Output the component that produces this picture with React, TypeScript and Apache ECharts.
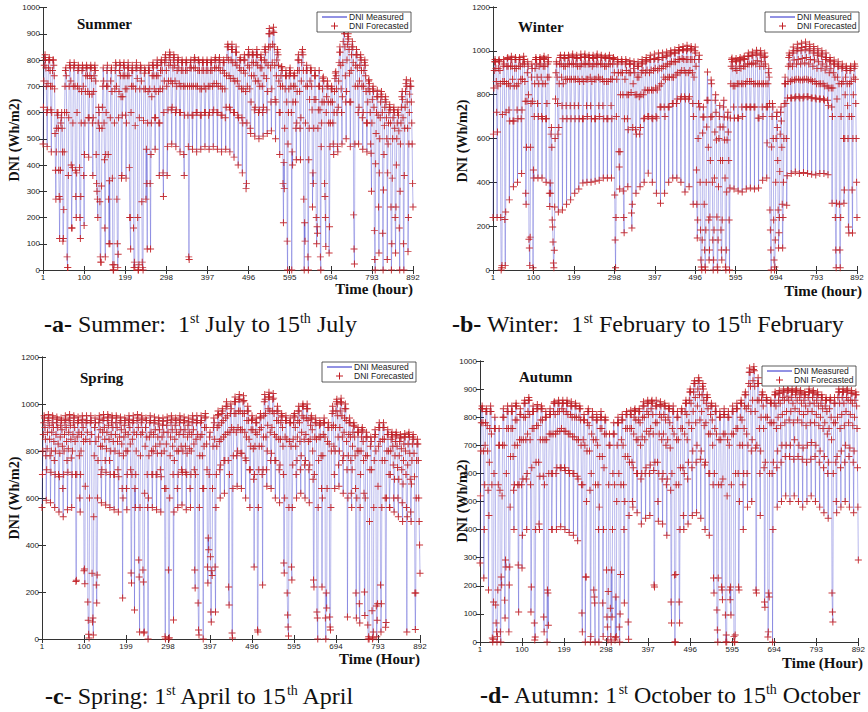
import React, { useEffect, useRef } from "react";
import * as echarts from "echarts";

// Tick labels on every time axis (hour index)
const xTickLabels = [1, 100, 199, 298, 397, 496, 595, 694, 793, 892];

// Each string = one day of hourly DNI values (Wh/m2)
const summerDays = [
  "480 620 720 780 810 820 800 770 700 600", "470 610 710 770 800 810 800 760 700 610",
  "450 600 700 760 800 800 780 740 690 520", "380 270 450 540 600 590 600 540 380 280",
  "120 270 380 560 580 600 540 450 110 120", "230 450 600 700 760 770 740 600 50 10",
  "10 360 580 700 780 790 770 720 400 160", "160 390 560 700 770 790 780 700 380 280",
  "200 370 600 700 760 780 770 690 390 200", "120 280 560 680 760 780 770 700 360 170",
  "440 560 680 740 770 780 770 740 680 580", "430 580 670 740 770 780 770 730 670 560",
  "360 580 680 740 770 780 760 720 440 330", "300 270 200 560 620 600 540 260 50 30",
  "30 320 540 620 700 770 720 560 420 160", "50 440 600 700 760 780 700 440 270 100",
  "340 100 580 720 760 770 680 350 20 0", "0 20 560 690 760 790 780 700 270 100",
  "10 60 580 680 760 790 780 740 660 350", "360 590 660 740 780 790 770 740 690 590",
  "350 560 690 740 770 790 770 740 390 200", "200 80 600 700 760 780 760 700 160 10",
  "30 10 550 690 770 790 770 730 200 0", "0 20 580 690 760 780 770 720 260 30",
  "10 0 570 690 750 770 760 690 270 460", "330 80 560 680 760 780 760 690 330 80",
  "440 560 660 740 780 790 770 740 690 580", "460 580 680 740 780 800 780 740 680 560",
  "360 560 690 760 790 800 790 760 690 370", "280 600 720 790 810 820 800 760 700 360",
  "470 610 720 780 810 830 820 790 720 610", "480 620 710 770 800 820 810 780 720 600",
  "470 610 700 760 790 810 800 770 710 600", "450 600 700 760 790 800 790 760 700 440",
  "360 590 700 760 790 800 790 760 700 590", "470 50 40 700 770 790 800 770 700 590",
  "460 590 700 770 800 810 800 770 700 600", "450 600 700 760 800 800 790 760 690 590",
  "460 590 690 760 790 800 790 760 700 600", "470 600 690 760 790 800 790 760 700 590",
  "460 600 700 760 790 800 790 760 700 600", "470 610 710 770 800 810 800 770 710 600",
  "460 600 700 770 800 810 790 760 700 590", "450 590 690 760 790 800 790 750 690 580",
  "460 620 740 810 850 860 850 800 740 620", "450 610 730 800 840 860 840 790 730 600",
  "430 600 720 790 830 850 830 780 720 590", "400 580 700 770 800 810 800 760 690 580",
  "370 560 690 760 800 820 800 750 680 310", "330 560 700 780 820 840 820 770 690 540",
  "520 640 740 790 820 830 820 790 740 610", "510 620 720 790 820 840 820 780 720 600",
  "500 610 700 770 810 820 800 770 700 600", "510 620 740 800 840 850 830 790 730 610",
  "520 680 780 850 900 920 900 850 770 640", "530 690 790 860 910 925 905 850 780 650",
  "500 640 740 800 830 840 820 780 720 600", "440 600 700 740 770 775 760 700 330 180",
  "410 310 540 690 740 760 740 640 110 0", "480 600 690 740 760 770 750 700 600 0",
  "450 400 640 700 740 750 740 700 640 540", "420 560 680 760 800 820 800 760 680 540",
  "420 580 720 790 830 840 820 760 270 0", "180 110 560 700 760 780 760 700 50 0",
  "420 540 650 720 760 770 760 700 610 240", "370 330 540 650 740 760 740 650 200 100",
  "165 140 540 610 700 760 700 610 50 0", "470 560 640 690 730 735 720 640 330 280",
  "200 90 600 660 700 720 700 640 560 65", "165 470 560 640 690 700 690 640 560 480",
  "440 600 680 730 750 755 740 690 600 470", "450 620 720 790 830 850 830 780 690 600",
  "480 660 790 870 910 920 900 850 740 640", "500 680 800 860 890 900 880 840 750 640",
  "470 640 760 820 850 870 850 790 210 80", "23 480 700 780 820 840 820 770 700 600",
  "480 620 720 780 810 820 800 760 700 580", "460 600 700 760 790 800 780 740 680 560",
  "450 560 640 690 720 725 710 680 600 480", "445 300 560 650 690 700 680 620 150 40",
  "0 405 520 600 660 685 660 590 240 65", "370 500 580 640 670 680 660 600 140 0",
  "305 440 550 620 650 660 640 580 500 40", "370 480 560 600 620 630 610 560 240 0",
  "100 350 500 580 610 620 600 540 200 65", "240 400 500 560 600 610 590 530 160 0",
  "300 480 560 620 660 680 650 580 100 0", "360 540 620 680 710 725 700 640 540 70",
  "200 480 600 670 700 720 700 640 560 480 330 240",
];

const winterDays = [
  "240 620 830 910 950 960 950 920 860 720", "240 630 840 920 955 960 950 910 850 240",
  "0 10 20 710 860 930 960 940 860 230", "20 265 720 850 930 965 970 930 850 730",
  "320 680 840 930 960 975 960 930 870 680", "380 680 840 920 960 970 960 920 840 730",
  "400 690 850 930 960 970 960 930 870 690", "440 730 870 940 960 975 960 940 860 770",
  "350 300 560 770 900 950 930 800 140 100", "20 150 560 760 880 940 920 770 10 456",
  "420 700 850 920 960 970 960 940 880 760", "420 700 850 930 960 970 960 940 880 700",
  "420 690 850 930 965 975 960 930 850 690", "400 690 760 880 940 970 950 880 350 290",
  "397 350 620 650 560 228 196 128 32 10", "90 287 600 780 900 950 940 880 760 620",
  "265 650 850 940 970 980 970 940 880 750", "274 690 850 930 970 980 965 930 870 750",
  "300 690 870 940 970 980 970 940 870 750", "320 690 870 940 975 985 970 940 870 750",
  "350 690 870 940 970 980 965 930 870 750", "370 690 860 930 970 985 970 940 870 690",
  "397 690 860 940 975 985 970 940 870 750", "400 700 870 940 970 980 970 940 880 750",
  "400 690 860 930 970 980 965 940 870 690", "405 690 870 940 975 985 970 940 880 750",
  "410 700 870 940 970 980 970 940 870 750", "420 690 860 930 970 975 965 930 860 690",
  "420 690 860 940 970 980 965 940 870 750", "420 690 870 940 965 970 960 900 342 137",
  "10 240 700 870 940 960 950 900 540 470", "370 540 800 900 950 960 950 900 800 360",
  "240 170 690 870 940 960 950 910 800 690", "380 640 800 900 940 955 940 900 810 260",
  "192 300 650 850 920 950 940 900 800 640", "350 620 800 880 930 950 930 880 790 620",
  "380 650 800 900 940 960 945 910 800 690", "400 693 821 900 950 970 955 912 820 700",
  "442 700 820 900 960 980 960 912 821 693", "400 690 820 910 960 985 965 920 830 700",
  "350 693 821 912 960 990 970 920 840 744", "305 744 850 920 970 990 970 930 880 744",
  "350 700 870 930 975 995 980 940 880 744", "400 744 880 940 985 1000 990 950 880 760",
  "420 760 880 950 990 1005 990 950 890 760", "420 780 900 960 1000 1015 1000 960 900 780",
  "400 790 910 965 1005 1020 1005 960 910 790", "356 780 900 960 1000 1026 1010 960 900 780",
  "380 790 910 960 1005 1020 1010 960 900 760", "300 700 880 960 1000 1017 990 930 456 300",
  "146 228 600 760 960 980 744 400 182 46", "14 0 137 625 698 744 698 300 91 14",
  "0 182 400 652 775 903 775 560 228 46", "91 242 500 698 867 850 700 400 137 0",
  "46 182 420 630 775 800 720 593 242 14", "0 137 380 600 700 750 652 500 182 91",
  "46 228 500 652 744 775 698 593 420 14", "0 91 356 593 698 720 630 500 228 0",
  "374 693 850 930 960 967 950 920 840 744", "370 693 840 920 955 965 950 910 850 693",
  "360 693 850 930 960 970 955 920 850 744", "356 700 850 930 965 975 960 930 850 744",
  "370 744 860 940 975 990 975 940 860 744", "374 744 860 940 980 995 980 945 850 744",
  "370 744 850 940 985 1003 990 955 850 693", "374 693 850 930 980 1000 985 950 850 744",
  "410 700 850 930 970 990 975 940 850 744", "420 580 744 850 900 920 880 760 274 182",
  "91 0 561 700 760 744 600 228 46 0", "14 137 400 600 700 720 650 500 274 100",
  "170 240 450 620 720 744 680 560 300 100", "240 400 600 760 850 880 850 760 600 295",
  "430 785 860 930 970 990 980 940 860 785", "440 785 867 930 990 1017 1000 958 867 785",
  "447 790 870 940 1000 1030 1010 960 870 790", "440 785 867 940 1000 1035 1015 965 867 785",
  "445 790 870 945 1005 1040 1020 970 870 790", "440 790 867 940 1000 1030 1010 960 867 785",
  "437 785 860 930 990 1020 1000 958 860 785", "433 780 850 920 980 1010 990 950 850 780",
  "440 780 850 920 975 1000 985 940 850 780", "440 775 840 912 960 990 970 930 840 775",
  "435 750 830 900 950 970 955 920 830 744", "305 700 830 900 940 958 940 880 240 91",
  "10 305 780 880 930 950 930 850 300 91", "10 240 700 850 920 940 926 860 600 305",
  "365 600 800 880 920 930 910 850 750 600", "196 169 700 850 910 930 920 860 700 365",
  "169 600 800 880 920 940 930 870 760 600 400 240",
];

const springDays = [
  "560 700 800 870 920 950 940 900 850 780", "590 720 810 880 930 955 940 910 850 780",
  "580 710 800 880 920 950 940 900 840 760", "560 700 800 870 920 945 935 900 830 700",
  "540 690 790 860 910 940 930 890 820 640", "520 700 800 870 920 950 935 900 840 760",
  "550 710 810 880 930 955 940 910 850 770", "560 700 800 870 920 950 940 900 840 700",
  "245 250 700 860 920 945 930 880 780 600", "540 700 800 870 920 950 935 900 840 290",
  "298 235 650 850 920 950 930 880 157 80", "20 4 600 840 920 950 930 870 280 72",
  "89 17 520 780 900 940 920 840 230 153", "272 600 760 860 920 950 935 890 820 700",
  "580 720 820 880 930 955 940 900 850 760", "570 710 810 880 930 955 945 910 850 760",
  "560 700 800 870 920 950 940 900 840 700", "550 700 800 870 920 950 940 900 840 720",
  "540 690 790 860 920 945 930 890 830 640", "174 600 780 860 910 940 930 880 800 640",
  "550 700 800 870 920 950 935 900 830 720", "281 238 700 850 920 950 930 880 123 640",
  "560 700 800 870 930 955 940 900 336 264", "30 560 780 870 920 950 935 880 294 243",
  "26 30 620 820 900 940 930 860 700 560", "0 600 780 860 920 950 930 880 800 700",
  "560 700 800 870 920 945 930 890 820 700", "550 700 790 860 915 940 930 890 830 720",
  "540 690 790 860 910 940 925 880 800 640", "10 0 640 830 910 945 930 880 294 0",
  "5 600 780 860 920 950 935 890 820 700", "81 540 760 850 910 940 930 880 800 640",
  "560 700 800 870 920 950 935 890 820 720", "570 710 800 870 920 945 930 890 820 710",
  "550 700 790 860 910 940 925 880 810 640", "560 700 800 870 920 950 935 890 830 720",
  "294 217 700 850 920 950 930 870 153 38", "17 560 780 860 920 950 930 870 780 640",
  "0 640 820 900 940 960 945 900 830 720", "306 238 430 380 700 860 880 350 115 72",
  "290 270 640 820 900 940 920 850 306 115", "560 700 820 900 950 970 955 910 840 720",
  "600 740 850 920 960 980 970 930 860 760", "620 760 870 940 990 1010 990 950 880 760",
  "221 145 700 880 960 1000 980 900 26 4", "640 780 890 960 1010 1030 1010 960 880 780",
  "650 800 900 970 1020 1040 1020 970 890 790", "640 790 890 960 1010 1035 1015 960 880 770",
  "600 760 860 930 970 990 970 930 850 720", "560 720 820 890 930 950 935 890 810 680",
  "306 700 820 880 920 940 920 870 38 30", "560 720 820 890 940 960 945 900 820 700",
  "230 720 860 950 1010 1040 1020 960 860 720", "650 800 910 980 1030 1050 1030 970 880 760",
  "640 790 900 970 1020 1045 1025 960 870 760", "600 760 860 930 970 990 970 930 850 720",
  "580 740 850 920 950 960 945 900 820 700", "323 281 600 860 930 950 930 850 196 102",
  "51 13 560 840 920 940 920 820 306 251", "560 740 850 920 950 960 945 900 820 700",
  "600 760 860 930 970 990 970 920 840 720", "620 780 880 950 990 1000 990 940 850 740",
  "600 760 870 940 980 1000 980 930 840 720", "580 740 850 910 940 950 935 890 800 680",
  "251 221 700 860 920 940 920 850 115 89", "0 560 760 860 910 930 915 860 780 640",
  "221 600 780 870 920 940 920 860 89 0", "196 132 640 840 900 920 900 830 94 51",
  "38 560 800 900 960 990 970 910 820 700", "640 800 900 970 1010 1020 1000 950 860 740",
  "650 800 900 970 1010 1025 1005 950 860 760", "620 780 880 940 980 1000 980 930 840 720",
  "94 600 780 870 920 940 920 860 760 620", "560 720 820 880 910 920 905 860 780 640",
  "196 89 600 800 880 900 880 800 150 68", "560 700 800 860 890 900 885 840 760 620",
  "200 100 600 780 860 880 860 780 60 0", "10 0 500 720 820 860 840 720 120 0",
  "5 30 560 760 860 890 870 800 140 10", "80 150 650 820 900 920 900 840 230 30",
  "150 560 760 850 900 920 900 850 760 600", "50 70 600 800 870 890 870 800 700 560",
  "560 700 800 850 870 880 860 820 740 600", "540 680 780 840 870 880 865 820 730 600",
  "520 680 780 840 860 870 855 810 720 580", "500 660 760 830 860 875 860 800 700 560",
  "30 520 740 830 870 880 860 790 680 540", "500 660 760 830 860 870 850 790 690 196",
  "40 196 600 760 830 850 830 760 600 500 400 280",
];

const autumnDays = [
  "281 520 680 780 830 840 830 780 680 228", "400 560 700 780 820 830 820 770 680 540",
  "185 450 640 760 820 840 820 740 560 14", "0 10 142 600 760 800 760 132 68 36",
  "0 20 185 560 700 760 700 540 36 0", "231 203 520 700 800 830 800 700 149 85",
  "292 267 600 760 820 840 820 760 36 203", "267 480 660 760 820 840 820 760 660 540",
  "400 560 700 790 840 850 840 790 700 560", "274 107 560 720 810 830 810 720 560 263",
  "380 580 720 800 850 860 850 800 720 580", "400 600 740 820 860 870 860 810 720 560",
  "107 196 620 760 820 840 820 760 68 7", "18 400 640 770 830 845 830 770 640 420",
  "400 590 720 790 830 840 830 790 720 590", "89 36 560 720 800 820 800 720 0 185",
  "174 60 600 740 810 830 810 740 600 400", "400 600 740 820 850 855 850 810 740 600",
  "400 620 750 820 850 860 850 820 750 620", "410 620 760 830 850 860 850 820 750 620",
  "400 610 750 820 850 860 850 810 740 610", "390 600 740 810 840 855 840 800 730 600",
  "380 600 730 800 840 850 840 800 720 590", "360 580 720 800 830 840 830 790 700 560",
  "103 36 560 720 790 810 790 700 0 231", "231 500 680 780 820 830 820 770 680 540",
  "0 20 600 740 800 820 800 720 185 160", "139 0 560 720 790 810 790 700 560 400",
  "0 480 660 760 800 820 800 760 660 139", "20 400 620 740 790 800 790 740 256 89",
  "53 7 180 560 700 740 700 120 20 0", "256 89 400 600 740 780 740 560 7 15",
  "160 20 500 700 780 800 780 600 53 0", "100 240 560 720 790 810 790 700 560 400",
  "139 500 660 760 810 820 810 760 660 71", "10 450 640 760 810 825 810 760 640 500",
  "480 620 740 800 825 830 820 790 720 600", "460 600 720 790 820 830 820 780 700 580",
  "420 600 730 800 840 855 840 800 720 600", "440 620 750 820 850 860 850 810 740 600",
  "450 630 760 830 855 860 850 810 740 610", "203 196 640 780 840 860 840 780 640 500",
  "430 600 740 810 845 855 840 800 720 580", "420 600 740 810 840 850 840 790 700 560",
  "380 580 720 800 830 840 830 780 690 540", "142 68 600 760 820 840 820 740 238 0",
  "0 240 560 720 800 820 800 720 560 142", "68 400 620 760 820 830 820 760 620 450",
  "400 600 740 820 850 860 850 810 720 580", "420 640 780 860 890 900 890 850 760 620",
  "450 680 820 890 920 930 920 870 780 640", "460 700 840 900 930 940 930 880 790 650",
  "440 680 820 880 910 920 900 860 770 630", "400 640 780 850 870 880 870 830 740 600",
  "380 600 740 810 840 850 840 790 700 560", "228 174 600 760 820 840 820 740 114 43",
  "0 228 560 720 800 820 800 720 560 196", "185 150 580 740 810 830 810 740 96 0",
  "25 0 520 720 800 820 800 700 185 150", "196 96 560 740 820 840 820 740 20 0",
  "0 25 600 760 830 850 830 760 600 196", "185 500 700 800 850 860 850 790 700 560",
  "400 600 760 840 880 890 880 830 740 600", "480 700 840 920 960 975 960 910 820 680",
  "500 720 860 930 970 980 965 910 820 690", "185 174 700 860 920 940 920 860 760 600",
  "450 680 800 860 880 890 880 840 760 620", "142 124 640 800 860 870 860 800 18 36",
  "174 160 600 780 850 860 850 780 600 0", "400 640 780 850 880 890 880 840 760 620",
  "480 680 800 860 885 895 885 850 770 640", "500 700 810 870 890 900 890 860 780 660",
  "520 700 820 875 895 900 895 860 790 660", "500 700 820 870 890 900 890 850 780 650",
  "520 720 830 880 895 900 890 860 790 660", "500 700 820 870 890 895 885 850 780 650",
  "480 690 810 860 880 890 880 840 770 640", "500 700 820 870 890 900 890 850 780 650",
  "520 710 820 870 890 895 885 850 780 660", "500 700 810 860 880 890 880 840 770 640",
  "480 680 800 850 870 880 870 830 760 620", "460 660 780 840 860 870 860 820 740 600",
  "440 640 760 830 860 870 860 800 720 174", "107 71 600 780 850 870 850 780 640 500",
  "460 660 800 870 890 900 890 850 760 620", "480 680 810 870 890 900 890 850 770 640",
  "500 700 820 870 895 900 890 860 780 660", "480 690 810 860 885 895 885 850 770 640",
  "460 680 800 860 880 890 880 840 760 620 480 292",
];

const toSeries = (days: string[]) => days.join(" ").trim().split(/\s+/).map(Number);

const summerMeasured = toSeries(summerDays);
const winterMeasured = toSeries(winterDays);
const springMeasured = toSeries(springDays);
const autumnMeasured = toSeries(autumnDays);
// forecast markers sit on the measured vertices in the picture
const summerForecast = summerMeasured;
const winterForecast = winterMeasured;
const springForecast = springMeasured;
const autumnForecast = autumnMeasured;

const SERIF = "'Liberation Serif', 'Times New Roman', serif";
const SANS = "'Liberation Sans', Arial, sans-serif";
const PLUS = "path://M4.3,0H5.7V4.3H10V5.7H5.7V10H4.3V5.7H0V4.3H4.3Z";
const LINE_COLOR = "#2424c8";
const MARK_COLOR = "#c21f24";

const panels = [
  {
    title: "Summer", measured: summerMeasured, forecast: summerForecast, yMax: 1000, yStep: 100,
    grid: { left: 43, top: 7.5, width: 370, height: 262.5 }, titlePos: [77, 24],
    xName: "Time (hour)", xNamePos: [413, 289], yNamePos: [14, 140], legendPos: [317, 12],
    caption: "{b|-a-} Summer:  1{s|st} July to 15{s|th} July", captionPos: [44, 324],
  },
  {
    title: "Winter", measured: winterMeasured, forecast: winterForecast, yMax: 1200, yStep: 200,
    grid: { left: 493, top: 7, width: 364, height: 263 }, titlePos: [518, 27],
    xName: "Time (hour)", xNamePos: [862, 291], yNamePos: [462, 141], legendPos: [765, 12],
    caption: "{b|-b-} Winter:  1{s|st} February to 15{s|th} February", captionPos: [452, 324],
  },
  {
    title: "Spring", measured: springMeasured, forecast: springForecast, yMax: 1200, yStep: 200,
    grid: { left: 42, top: 357, width: 378, height: 282 }, titlePos: [80, 378],
    xName: "Time (Hour)", xNamePos: [420, 659], yNamePos: [14, 498], legendPos: [322, 362],
    caption: "{b|-c-} Spring: 1{s|st} April to 15{s|th} April", captionPos: [45, 696],
  },
  {
    title: "Autumn", measured: autumnMeasured, forecast: autumnForecast, yMax: 1000, yStep: 100,
    grid: { left: 480, top: 361, width: 379, height: 281 }, titlePos: [519, 377],
    xName: "Time (Hour)", xNamePos: [863, 663], yNamePos: [462, 501], legendPos: [762, 366],
    caption: "{b|-d-} Autumn: 1{s|st} October to 15{s|th} October", captionPos: [480, 695],
  },
];

function legendGroup(x: number, y: number) {
  const w = 94, h = 20;
  return {
    type: "group", x, y, z: 20,
    children: [
      { type: "rect", z: 20, shape: { x: 0, y: 0, width: w, height: h }, style: { fill: "#fff", stroke: "#333", lineWidth: 0.8 } },
      { type: "line", z: 21, shape: { x1: 5, y1: 5, x2: 30, y2: 5 }, style: { stroke: LINE_COLOR, lineWidth: 1 } },
      { type: "text", z: 21, x: 32, y: 5, style: { text: "DNI Measured", font: `8.5px ${SANS}`, fill: "#222", verticalAlign: "middle", align: "left" } },
      { type: "line", z: 21, shape: { x1: 14, y1: 14, x2: 21, y2: 14 }, style: { stroke: MARK_COLOR, lineWidth: 1 } },
      { type: "line", z: 21, shape: { x1: 17.5, y1: 10.5, x2: 17.5, y2: 17.5 }, style: { stroke: MARK_COLOR, lineWidth: 1 } },
      { type: "text", z: 21, x: 32, y: 14, style: { text: "DNI Forecasted", font: `8.5px ${SANS}`, fill: "#222", verticalAlign: "middle", align: "left" } },
    ],
  };
}

export default function App() {
  const ref = useRef<HTMLDivElement>(null);
  useEffect(() => {
    document.body.style.margin = "0";
    if (!ref.current) return;
    const chart = echarts.init(ref.current, null, { renderer: "svg" });
    const grid: any[] = [];
    const xAxis: any[] = [];
    const yAxis: any[] = [];
    const series: any[] = [];
    const graphic: any[] = [];
    const axisLineStyle = { color: "#333", width: 1 };
    panels.forEach((p, i) => {
      grid.push({ ...p.grid, containLabel: false, show: false });
      const xBase = {
        type: "value", gridIndex: i, min: 0, max: 891, interval: 99,
        splitLine: { show: false },
        axisLine: { show: true, lineStyle: axisLineStyle },
        axisTick: { show: true, inside: true, length: 4, lineStyle: axisLineStyle },
      };
      xAxis.push({
        ...xBase, position: "bottom",
        axisLabel: { fontSize: 8, color: "#222", fontFamily: SANS, margin: 3,
          formatter: (v: number) => String(xTickLabels[Math.round(v / 99)] ?? "") },
      });
      xAxis.push({ ...xBase, position: "top", axisLabel: { show: false } });
      const yBase = {
        type: "value", gridIndex: i, min: 0, max: p.yMax, interval: p.yStep,
        splitLine: { show: false },
        axisLine: { show: true, lineStyle: axisLineStyle },
        axisTick: { show: true, inside: true, length: 4, lineStyle: axisLineStyle },
      };
      yAxis.push({ ...yBase, position: "left",
        axisLabel: { fontSize: 8, color: "#222", fontFamily: SANS, margin: 3, formatter: (v: number) => String(v) } });
      yAxis.push({ ...yBase, position: "right", axisLabel: { show: false } });
      series.push({
        type: "line", name: "DNI Measured", xAxisIndex: 2 * i, yAxisIndex: 2 * i,
        data: p.measured.map((v, k) => [k, v]), showSymbol: false, symbol: "none",
        lineStyle: { color: LINE_COLOR, width: 0.6, opacity: 0.55 }, silent: true, z: 2,
      });
      series.push({
        type: "scatter", name: "DNI Forecasted", xAxisIndex: 2 * i, yAxisIndex: 2 * i,
        data: p.forecast.map((v, k) => [k, v]), symbol: PLUS, symbolSize: 7,
        itemStyle: { color: MARK_COLOR, opacity: 0.9 }, silent: true, z: 3,
      });
      graphic.push({ type: "text", z: 20, x: p.titlePos[0], y: p.titlePos[1],
        style: { text: p.title, font: `bold 15px ${SERIF}`, fill: "#111", verticalAlign: "middle" } });
      graphic.push({ type: "text", z: 20, x: p.xNamePos[0], y: p.xNamePos[1],
        style: { text: p.xName, font: `bold 15px ${SERIF}`, fill: "#111", align: "right", verticalAlign: "middle" } });
      graphic.push({ type: "text", z: 20, x: p.yNamePos[0], y: p.yNamePos[1], rotation: Math.PI / 2,
        style: { text: "DNI (Wh/m2)", font: `bold 14px ${SERIF}`, fill: "#111", align: "center", verticalAlign: "middle" } });
      graphic.push(legendGroup(p.legendPos[0], p.legendPos[1]));
      graphic.push({ type: "text", z: 20, x: p.captionPos[0], y: p.captionPos[1],
        style: {
          text: p.caption, font: `24px ${SERIF}`, fill: "#111", verticalAlign: "middle", align: "left",
          rich: {
            b: { font: `bold 24px ${SERIF}`, fill: "#111", lineHeight: 26 },
            s: { font: `14px ${SERIF}`, fill: "#111", verticalAlign: "top", lineHeight: 26 },
          },
        } });
    });
    chart.setOption({ animation: false, grid, xAxis, yAxis, series, graphic });
    return () => chart.dispose();
  }, []);
  return <div ref={ref} style={{ width: 868, height: 712 }} />;
}
